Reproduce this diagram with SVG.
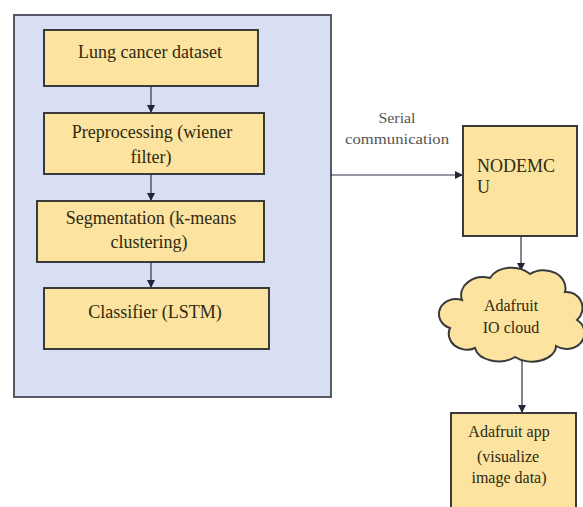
<svg xmlns="http://www.w3.org/2000/svg" width="583" height="507" viewBox="0 0 583 507">
<defs>
<style>
.box{fill:#FDE3A0;stroke:#3a3a3a;stroke-width:2}
.panel{fill:#D8DFF3;stroke:#555a66;stroke-width:2}
.t{font-family:'Liberation Serif','DejaVu Serif',serif;font-size:18px;fill:#2e2a10;text-anchor:middle}
.s{font-size:16px}
.lbl{font-family:'Liberation Serif','DejaVu Serif',serif;font-size:14px;fill:#555;text-anchor:middle}
.c{stroke:#2f3545;stroke-width:1.2;fill:none;marker-end:url(#ah)}
</style>
<marker id="ah" markerWidth="8" markerHeight="8" refX="7" refY="4" orient="auto" markerUnits="userSpaceOnUse">
<path d="M0,0 L8,4 L0,8 Z" fill="#1f2540"/>
</marker>
</defs>
<rect width="583" height="507" fill="#ffffff"/>
<g id="panel"><rect class="panel" x="14" y="15" width="317" height="382"/></g>
<g id="connectors">
<line class="c" x1="151" y1="86" x2="151" y2="112"/>
<line class="c" x1="151" y1="174" x2="151" y2="200"/>
<line class="c" x1="151" y1="262" x2="151" y2="287"/>
<line class="c" x1="331" y1="175" x2="462" y2="175"/>
<line class="c" x1="521" y1="236" x2="521" y2="270"/>
<line class="c" x1="522" y1="358" x2="522" y2="412"/>
<text class="lbl" x="397" y="123" textLength="37" lengthAdjust="spacingAndGlyphs">Serial</text>
<text class="lbl" x="397" y="144" textLength="104" lengthAdjust="spacingAndGlyphs">communication</text>
</g>
<g id="n1"><rect class="box" x="44" y="30" width="214" height="56"/><text class="t" x="150" y="58">Lung cancer dataset</text></g>
<g id="n2"><rect class="box" x="44" y="113" width="220" height="61"/><text class="t" x="152" y="138">Preprocessing (wiener</text><text class="t" x="151" y="163">filter)</text></g>
<g id="n3"><rect class="box" x="37" y="201" width="227" height="61"/><text class="t" x="151" y="224">Segmentation (k-means</text><text class="t" x="149" y="248">clustering)</text></g>
<g id="n4"><rect class="box" x="44" y="288" width="225" height="61"/><text class="t" x="155" y="318">Classifier (LSTM)</text></g>
<g id="nodemcu"><rect class="box" x="463" y="126" width="114" height="110"/><text class="t" x="477" y="172" style="text-anchor:start">NODEMC</text><text class="t" x="477" y="193" style="text-anchor:start">U</text></g>
<g id="cloud"><path class="box" d="M462 300 A22 18 0 0 1 490 278 A24 18 0 0 1 530 274 A22 18 0 0 1 565 292 A16 16 0 0 1 577 320 A18 16 0 0 1 556 346 A24 16 0 0 1 515 357 A24 16 0 0 1 475 348 A18 16 0 0 1 450 328 A16 14 0 0 1 462 300 Z"/><text class="t s" x="511" y="311">Adafruit</text><text class="t s" x="511" y="333">IO cloud</text></g>
<g id="app"><rect class="box" x="451" y="413" width="125" height="100"/><text class="t s" x="509" y="437">Adafruit app</text><text class="t s" x="508" y="462">(visualize</text><text class="t s" x="509" y="483">image data)</text></g>
</svg>
